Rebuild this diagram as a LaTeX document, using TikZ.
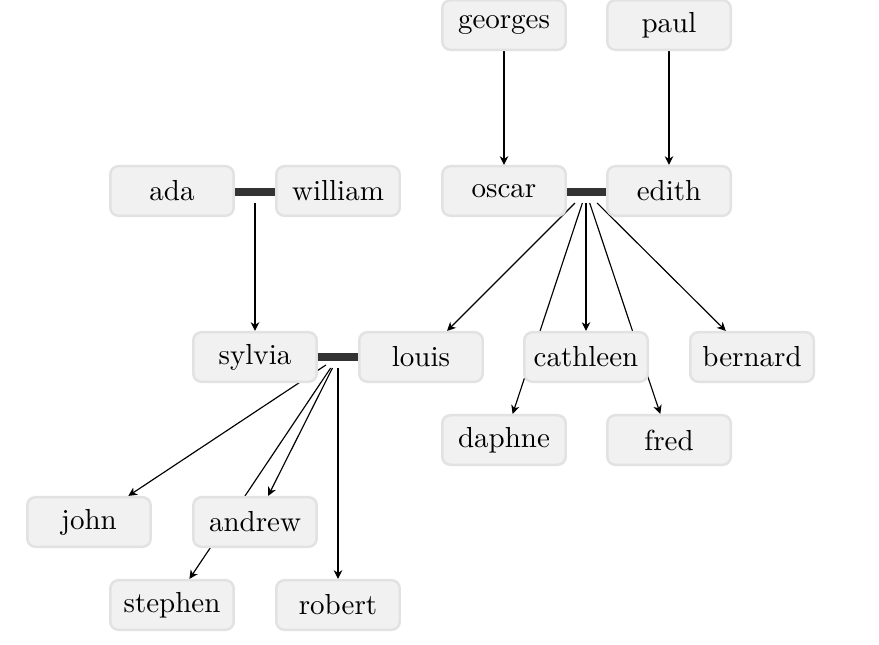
\documentclass[tikz,border=0pt]{standalone}
\usetikzlibrary{arrows.meta,backgrounds}
\definecolor{nodefill}{HTML}{F1F1F1}
\definecolor{nodeborder}{HTML}{E2E2E2}
\definecolor{barcol}{HTML}{333333}
\begin{document}
\begin{tikzpicture}[x=0.345pt,y=-0.345pt,
  person/.style={draw=nodeborder, line width=0.86pt, fill=nodefill, rounded corners=2.8pt,
    minimum width=42.6pt, minimum height=17.1pt, inner sep=0pt},
  union/.style={inner sep=0pt, outer sep=0pt, minimum width=8.3pt, minimum height=7.6pt},
  bar/.style={line width=2.8pt, draw=barcol},
  link/.style={line width=0.4pt, -{Stealth[length=3pt,width=2.9pt,inset=0.9pt]}}]
\useasboundingbox (0,0) rectangle (879,644);
% row 0
\node[person] (georges) at (504,25) {georges};
\node[person] (paul) at (669,25) {paul};
% row 1
\node[person] (ada) at (172,191) {ada};
\node[person] (william) at (338,191) {william};
\node[person] (oscar) at (504,191) {oscar};
\node[person] (edith) at (669,191) {edith};
% row 2
\node[person] (sylvia) at (255,357) {sylvia};
\node[person] (louis) at (421,357) {louis};
\node[person] (cathleen) at (586,357) {cathleen};
\node[person] (bernard) at (752,357) {bernard};
% row 3
\node[person] (daphne) at (504,440) {daphne};
\node[person] (fred) at (669,440) {fred};
% row 4
\node[person] (john) at (89,522) {john};
\node[person] (andrew) at (255,522) {andrew};
% row 5
\node[person] (stephen) at (172,605) {stephen};
\node[person] (robert) at (338,605) {robert};
% unions
\node[union] (u1) at (255,192) {};
\node[union] (u2) at (586,192) {};
\node[union] (u3) at (338,357) {};
\draw[bar] (ada.east |- u1) -- (william.west |- u1);
\draw[bar] (oscar.east |- u2) -- (edith.west |- u2);
\draw[bar] (sylvia.east |- u3) -- (louis.west |- u3);
\begin{pgfonlayer}{background}
\draw[link] (georges) -- (oscar);
\draw[link] (paul) -- (edith);
\draw[link] (u1) -- (sylvia);
\draw[link] (u2) -- (louis);
\draw[link] (u2) -- (cathleen);
\draw[link] (u2) -- (bernard);
\draw[link] (u2) -- (daphne);
\draw[link] (u2) -- (fred);
\draw[link] (u3) -- (john);
\draw[link] (u3) -- (andrew);
\draw[link] (u3) -- (stephen);
\draw[link] (u3) -- (robert);
\end{pgfonlayer}
\end{tikzpicture}
\end{document}
